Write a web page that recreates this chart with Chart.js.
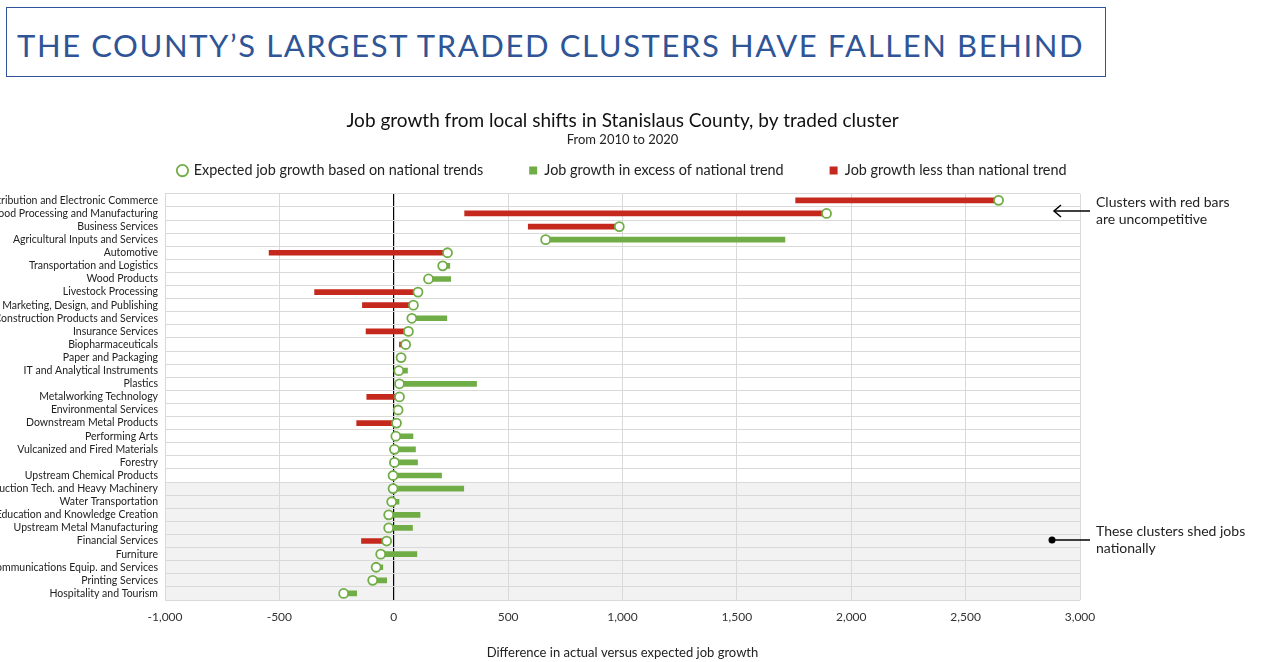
<!DOCTYPE html>
<html>
<head>
<meta charset="utf-8">
<title>Traded clusters</title>
<script src="https://cdn.jsdelivr.net/npm/chart.js@4.4.1/dist/chart.umd.min.js"></script>
<style>
  body { margin: 0; background: #fff; font-family: Lato, sans-serif; }
  #wrap { position: relative; width: 1262px; height: 662px; overflow: hidden; }
  #banner { position: absolute; left: 6px; top: 7px; width: 1100px; height: 70px; box-sizing: border-box; border: 1.5px solid #2f5597; }
  #bannerText { position: absolute; left: 17px; top: 30px; line-height: 31px; font-size: 31px; letter-spacing: 1.6px; color: #2f5597; white-space: nowrap; }
  #myChart { position: absolute; left: 0; top: 0; }
  .note { position: absolute; left: 1096px; font-size: 14px; line-height: 17px; color: #222; white-space: nowrap; }
  #arrows { position: absolute; left: 0; top: 0; }
</style>
</head>
<body>
<div id="wrap">
  <div id="banner"></div>
  <div id="bannerText">THE COUNTY’S LARGEST TRADED CLUSTERS HAVE FALLEN BEHIND</div>
  <canvas id="myChart" width="1262" height="662"></canvas>
  <div class="note" style="top:193px;">Clusters with red bars<br>are uncompetitive</div>
  <div class="note" style="top:522px;">These clusters shed jobs<br>nationally</div>
  <svg id="arrows" width="1262" height="662">
    <line x1="1090" y1="211" x2="1054" y2="211" stroke="#000" stroke-width="1.5"/>
    <polyline points="1061,205 1054,211 1061,217" fill="none" stroke="#000" stroke-width="1.5"/>
    <line x1="1052" y1="540" x2="1090" y2="540" stroke="#000" stroke-width="1.5"/>
    <circle cx="1052" cy="540" r="3.5" fill="#000"/>
  </svg>
</div>
<script>
// traded clusters, top to bottom
var categories = [
    'Distribution and Electronic Commerce',
    'Food Processing and Manufacturing',
    'Business Services',
    'Agricultural Inputs and Services',
    'Automotive',
    'Transportation and Logistics',
    'Wood Products',
    'Livestock Processing',
    'Marketing, Design, and Publishing',
    'Construction Products and Services',
    'Insurance Services',
    'Biopharmaceuticals',
    'Paper and Packaging',
    'IT and Analytical Instruments',
    'Plastics',
    'Metalworking Technology',
    'Environmental Services',
    'Downstream Metal Products',
    'Performing Arts',
    'Vulcanized and Fired Materials',
    'Forestry',
    'Upstream Chemical Products',
    'Production Tech. and Heavy Machinery',
    'Water Transportation',
    'Education and Knowledge Creation',
    'Upstream Metal Manufacturing',
    'Financial Services',
    'Furniture',
    'Communications Equip. and Services',
    'Printing Services',
    'Hospitality and Tourism'
];

// expected job growth from national trends (circle)
var expectedGrowth = [2644, 1892, 986, 664, 235, 214, 152, 106, 86, 79, 64, 52, 32, 22, 25, 25,
    19, 12, 9, 3, 3, -3, -3, -9, -22, -22, -31, -57, -77, -92, -219];

// local shift: actual minus expected (bar length)
var localShift = [-887, -1582, -398, 1046, -780, 31, 97, -452, -223, 153, -185, -27, 0, 38, 337, -143,
    0, -174, 75, 92, 101, 212, 309, 32, 137, 104, -110, 158, 29, 61, 57];

var shadeFrom = 'Production Tech. and Heavy Machinery'; // clusters that shed jobs nationally

var green = '#70ad47';
var red = '#c5281c';

var excessBars = expectedGrowth.map((e, i) => localShift[i] > 0 ? [e, e + localShift[i]] : null);
var shortBars = expectedGrowth.map((e, i) => localShift[i] < 0 ? [e + localShift[i], e] : null);

var shadePlugin = {
    id: 'shade',
    beforeDraw: function(chart) {
        var ctx = chart.ctx, area = chart.chartArea, y = chart.scales.y;
        var idx = categories.indexOf(shadeFrom);
        var top = (y.getPixelForValue(idx - 1) + y.getPixelForValue(idx)) / 2;
        ctx.save();
        ctx.fillStyle = '#f2f2f2';
        ctx.fillRect(area.left, top, area.right - area.left, area.bottom - top);
        ctx.restore();
    }
};

// a bit more room under the legend
var legendGap = {
    id: 'legendGap',
    afterInit: function(chart) {
        var lg = chart.legend;
        var fit = lg.fit;
        lg.fit = function() { fit.call(this); this.height += 6; };
    }
};

window.onload = function() {
    var ctx = document.getElementById('myChart').getContext('2d');

    new Chart(ctx, {
        type: 'bar',
        data: {
            labels: categories,
            datasets: [
                {
                    type: 'line',
                    label: 'Expected job growth based on national trends',
                    data: expectedGrowth,
                    indexAxis: 'y',
                    showLine: false,
                    pointStyle: 'circle',
                    pointRadius: 4.5,
                    pointBorderWidth: 1.8,
                    pointBorderColor: green,
                    pointBackgroundColor: '#fff'
                },
                {
                    label: 'Job growth in excess of national trend',
                    data: excessBars,
                    backgroundColor: green,
                    borderWidth: 0,
                    pointStyle: 'rect',
                    barThickness: 5
                },
                {
                    label: 'Job growth less than national trend',
                    data: shortBars,
                    backgroundColor: red,
                    borderWidth: 0,
                    pointStyle: 'rect',
                    barThickness: 5
                }
            ]
        },
        options: {
            indexAxis: 'y',
            responsive: false,
            animation: false,
            devicePixelRatio: 1,
            datasets: { bar: { grouped: false } },
            layout: { padding: { top: 100, right: 182, bottom: 1, left: 0 } },
            scales: {
                x: {
                    min: -1000,
                    max: 3000,
                    ticks: { stepSize: 500, padding: 10, color: '#333', font: { family: 'Lato', size: 12 } },
                    grid: {
                        drawTicks: false,
                        color: c => c.tick && c.tick.value === 0 ? '#000' : '#d9d9d9',
                        lineWidth: c => c.tick && c.tick.value === 0 ? 1.2 : 1
                    },
                    border: { display: false },
                    title: {
                        display: true,
                        text: 'Difference in actual versus expected job growth',
                        color: '#222',
                        font: { family: 'Lato', size: 13 },
                        padding: { top: 11, bottom: 0 }
                    }
                },
                y: {
                    afterFit: function(scale) { scale.width = 165; },
                    ticks: { autoSkip: false, padding: 7, color: '#222', font: { family: 'Lato', size: 10.5 } },
                    grid: { drawTicks: false, color: '#d9d9d9', offset: true },
                    border: { display: false }
                }
            },
            plugins: {
                title: {
                    display: true,
                    fullSize: false,
                    text: 'Job growth from local shifts in Stanislaus County, by traded cluster',
                    color: '#111',
                    font: { family: 'Lato', size: 19, weight: 'normal' },
                    padding: { top: 9, bottom: 0 }
                },
                subtitle: {
                    display: true,
                    fullSize: false,
                    text: 'From 2010 to 2020',
                    color: '#222',
                    font: { family: 'Lato', size: 13 },
                    padding: { top: 0, bottom: 6 }
                },
                legend: {
                    display: true,
                    fullSize: false,
                    position: 'top',
                    labels: {
                        usePointStyle: true,
                        boxWidth: 8,
                        boxHeight: 8,
                        padding: 10,
                        color: '#222',
                        font: { family: 'Lato', size: 14.4 },
                        generateLabels: function(chart) {
                            var items = Chart.defaults.plugins.legend.labels.generateLabels(chart);
                            items.forEach(function(item, i) {
                                if (i < items.length - 1) item.text += '\u2002\u2002\u2002\u2002\u2002';
                            });
                            return items;
                        }
                    }
                },
                tooltip: { enabled: false }
            }
        },
        plugins: [shadePlugin, legendGap]
    });
};
</script>
</body>
</html>
